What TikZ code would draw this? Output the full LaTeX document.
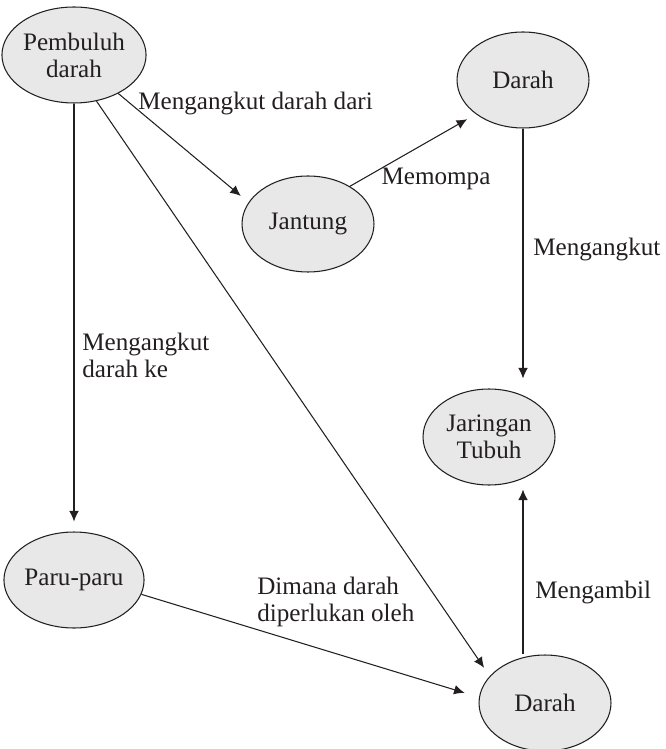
\documentclass[tikz,border=0pt]{standalone}
\usepackage{fontspec}
\setmainfont{Liberation Serif}
\usetikzlibrary{shapes.geometric,arrows.meta}
\definecolor{ink}{RGB}{35,31,32}
\definecolor{bubble}{RGB}{232,232,233}

\begin{document}
\begin{tikzpicture}[
    x=0.02cm, y=-0.02cm,
    every node/.style={text=ink, font=\fontsize{14.3}{15.3}\selectfont},
    concept/.style={ellipse, draw=ink, fill=bubble, line width=0.6pt, minimum width=2.64cm, minimum height=1.92cm, inner sep=0pt, align=center},
    caption/.style={inner sep=0pt, align=left},
    link/.style={draw=ink, line width=0.6pt, -{Latex[length=6pt,width=5.5pt]}, shorten >=0.2cm}
]
\useasboundingbox (0,0) rectangle (665,749);

\node[concept] (Vessel) at (74, 55) {Pembuluh\\darah};
\node[concept] (Heart) at (308, 224) {Jantung};
\node[concept] (BloodT) at (523, 80) {Darah};
\node[concept] (Tissue) at (489, 437) {Jaringan\\Tubuh};
\node[concept] (Lung) at (74, 580) {Paru-paru};
\node[concept] (BloodB) at (545, 703) {Darah};

% Connections
\draw[link] (Vessel.-41) -- (Heart.160);
\draw[link] (Vessel) -- (Lung);
\draw[link] (Vessel.-64) -- (BloodB.154);
\draw[link] (Heart.42) -- (BloodT.-144);
\draw[link] (BloodT.south) -- (BloodT.south |- Tissue.north);
\draw[link, shorten >=0.3cm] (Lung.-12) -- (BloodB.175);
\draw[link, shorten >=0.08cm] (BloodB.north -| BloodT.south) -- (BloodT.south |- Tissue.south);

% Labels
\node[caption, anchor=west] (lVH) at (138, 103) {Mengangkut darah dari};
\node[caption] (lHB) at (436, 179) {Memompa};
\node[caption, anchor=west] (lBT) at (533, 249) {Mengangkut};
\node[caption, anchor=west] (lVL) at (82, 355) {Mengangkut\\darah ke};
\node[caption, anchor=west] (lLB) at (257, 602) {Dimana darah\\diperlukan oleh};
\node[caption, anchor=west] (lBB) at (535, 592) {Mengambil};

\end{tikzpicture}
\end{document}
